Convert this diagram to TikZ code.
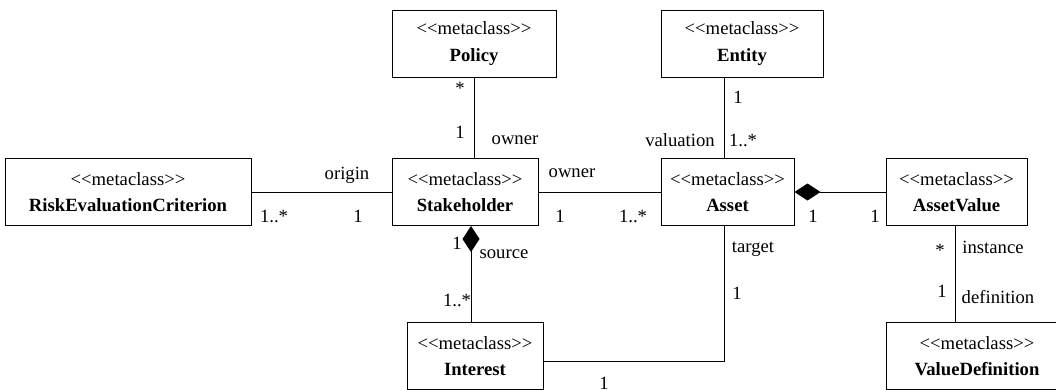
\documentclass[tikz,border=0pt]{standalone}
\usepackage{fontspec}
\setmainfont{Liberation Serif}
\usetikzlibrary{arrows.meta}

\begin{document}
\begin{tikzpicture}[x=0.75pt,y=-0.75pt,line width=0.75pt,font=\fontsize{14}{20}\selectfont,
  metaclass/.style={draw,inner sep=0pt,minimum height=50.25pt,align=center},
  comp/.style={-{Diamond[length=19.5pt,width=12.75pt]}}]
\clip (0,0) rectangle (1056,389);
\foreach \n/\x/\y/\w/\t in {rec/128/192/246/RiskEvaluationCriterion,pol/474/43.5/164/Policy,
  ent/742/43.5/162/Entity,stk/465/192/146/Stakeholder,ast/727.5/192/133/Asset,
  aval/956.5/192/141/AssetValue,int/475/356/136/Interest,vdef/977/356/182/ValueDefinition}{
 \node[metaclass,minimum width=\w*0.75pt] (\n) at (\x,\y) {<{}<metaclass>{}>\\\textbf{\t}};
}
% line positions
\coordinate (ev) at (724,0);
\coordinate (si) at (471,0);
\coordinate (vd) at (955,0);
\coordinate (ai) at (0,361);
\draw (rec.east) -- (stk.west);
\draw (pol.south) -- (pol.south |- stk.north);
\draw (stk.east) -- (ast.west);
\draw (ev |- ent.south) -- (ev |- ast.north);
\draw[comp] (aval.west) -- (ast.east);
\draw[comp] (si |- int.north) -- (si |- stk.south);
\draw (ev |- ast.south) |- (int.east |- ai);
\draw (vd |- aval.south) -- (vd |- vdef.north);
% multiplicities and roles
\foreach \t/\x/\y [count=\i] in {origin/347/175,{1..*}/274/216,1/358/216,*/460/88,1/460/132,
  owner/515/140,owner/572/173,1/560/216,{1..*}/633/216,1/738/97,valuation/680/140,{1..*}/743/140,
  1/813/216,1/875/216,1/457/243,source/504/254,{1..*}/457/300,target/753/249,1/737/293,
  1/604/383,*/940/250,instance/993/247,1/942/291,definition/998/297}{
 \node[inner sep=0pt] (l\i) at (\x,\y) {\t};
}
\end{tikzpicture}
\end{document}
